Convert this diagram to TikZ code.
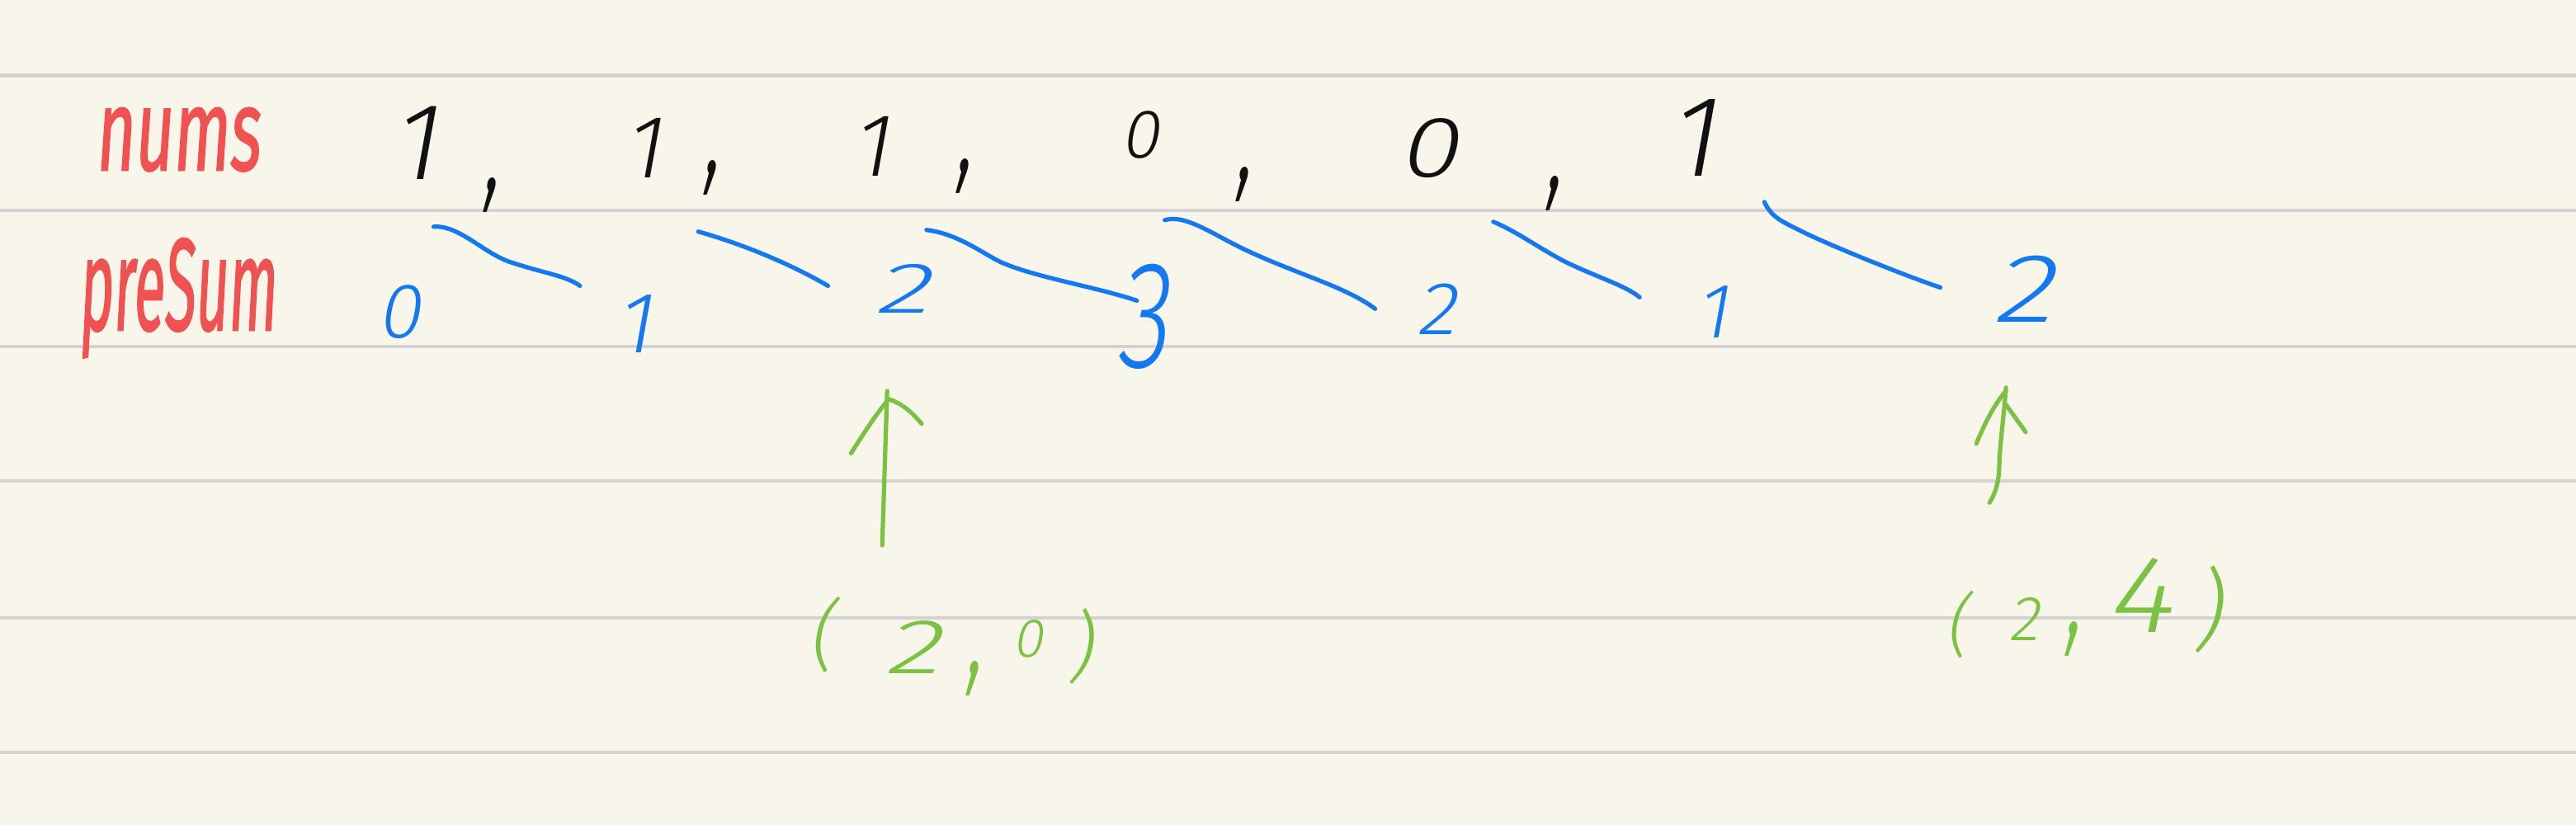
\documentclass[tikz,border=0pt]{standalone}
\usepackage{fontspec}
\usepackage{graphicx}
\setmainfont{Fira Sans Light}[FakeSlant=0.18]
\newfontfamily\labfont{Fira Sans}[FakeSlant=0.12,FakeBold=1.5]
\definecolor{paper}{HTML}{F8F6EA}
\definecolor{rulegray}{HTML}{D3D3D3}
\definecolor{inkred}{HTML}{F05252}
\definecolor{inkblk}{HTML}{111111}
\definecolor{inkblue}{HTML}{1479F0}
\definecolor{inkgreen}{HTML}{7CC242}
\newcommand{\sz}[1]{\fontsize{#1}{#1}\selectfont}
\newcommand{\hwcomma}[1]{{\sz{#1}\scalebox{1}[1.7]{,}}}
\begin{document}
\begin{tikzpicture}[x=0.02cm,y=-0.02cm,
  glyph/.style={inner sep=0pt,outer sep=0pt},
  blk/.style={glyph,text=inkblk},
  blu/.style={glyph,text=inkblue},
  grn/.style={glyph,text=inkgreen},
  lab/.style={glyph,text=inkred},
  pen/.style={line width=1.5pt,line cap=round,line join=round},
  bluepen/.style={pen,draw=inkblue},
  greenpen/.style={pen,draw=inkgreen},
  ruling/.style={draw=rulegray,line width=1.2pt}]
\fill[paper] (0,0) rectangle (1568,502);
\useasboundingbox (0,0) rectangle (1568,502);
\foreach \yy in {46,128,211,293,376,458} \draw[ruling] (0,\yy) -- (1568,\yy);

% labels
\node[lab] (numslab) at (108,85) {\resizebox{2cm}{0.76cm}{\labfont nums}};
\node[lab] (presumlab) at (108,181.5) {\resizebox*{2.4cm}{1.46cm}{\labfont preSum}};

% nums row
\node[blk] (n1) at (252,87) {\sz{38}1};
\node[blk] (k1) at (299,119) {\hwcomma{30}};
\node[blk] (n2) at (391,90) {\sz{31}1};
\node[blk] (k2) at (433,108) {\hwcomma{30}};
\node[blk] (n3) at (530,89) {\sz{31}1};
\node[blk] (k3) at (587,107) {\hwcomma{30}};
\node[blk] (n4) at (694,82) {\sz{24}0};
\node[blk] (k4) at (757,112) {\hwcomma{30}};
\node[blk] (n5) at (869,90) {\scalebox{1.25}[1]{\sz{30}0}};
\node[blk] (k5) at (946,118) {\hwcomma{30}};
\node[blk] (n6) at (1030,84) {\sz{40}1};

% preSum row
\node[blu] (b0) at (243,190) {\sz{27}0};
\node[blu] (b1) at (386,197) {\sz{30}1};
\node[blu] (b2) at (549,176) {\scalebox{1.6}[1]{\sz{25}2}};
\node[blu] (b3) at (695,193) {\scalebox{0.7}[1]{\sz{53}3}};
\node[blu] (b4) at (874,188) {\scalebox{1.1}[1]{\sz{26}2}};
\node[blu] (b5) at (1042,190) {\sz{27}1};
\node[blu] (b6) at (1231,176) {\scalebox{1.3}[1]{\sz{34}2}};

% blue strokes
\draw[bluepen] (264,138) .. controls (280,137) and (295,155) .. (312,160) .. controls (330,166) and (345,168) .. (353,174);
\draw[bluepen] (425,141) .. controls (450,148) and (480,160) .. (504,174);
\draw[bluepen] (564,140) .. controls (580,142) and (592,150) .. (606,158) .. controls (625,168) and (665,174) .. (692,183);
\draw[bluepen] (709,134) .. controls (722,130) and (740,144) .. (760,153) .. controls (790,167) and (820,175) .. (837,188);
\draw[bluepen] (909,135) .. controls (925,142) and (935,150) .. (952,159) .. controls (970,168) and (990,174) .. (998,181);
\draw[bluepen] (1074,123) .. controls (1078,132) and (1085,135) .. (1093,139) .. controls (1110,148) and (1160,168) .. (1181,175);

% green labels
\node[grn,anchor=base west] (g20) at (492,410) {\sz{27}\raisebox{0.14cm}{(}\hspace{0.62cm}\scalebox{1.5}[1]{2}\hspace{0.3cm}\hwcomma{30}\hspace{0.36cm}\raisebox{0.2cm}{\sz{19}0}\hspace{0.3cm})};
\node[grn,anchor=base west] (g24) at (1184,395) {\sz{24}(\hspace{0.5cm}\raisebox{0.1cm}{\sz{22}2}\hspace{0.3cm}\raisebox{0.18cm}{\hwcomma{30}}\hspace{0.3cm}\raisebox{0.2cm}{\sz{38}\scalebox{1.15}[1]{4}}\hspace{0.26cm}\raisebox{0.1cm}{\sz{31})}};

% green arrows
\coordinate (a1tail) at (537,332);
\coordinate (a1tip) at (540,238);
\draw[greenpen] (a1tail) .. controls (538,300) and (539,270) .. (a1tip);
\draw[greenpen] (518,276) .. controls (528,260) and (535,250) .. (541,243) .. controls (550,246) and (556,252) .. (561,258);
\coordinate (a2tail) at (1211,306);
\coordinate (a2tip) at (1221,236);
\draw[greenpen] (a2tail) .. controls (1216,298) and (1217,290) .. (1217,280) .. controls (1218,265) and (1220,250) .. (a2tip);
\draw[greenpen] (1203,270) .. controls (1208,258) and (1214,246) .. (1221,238);
\draw[greenpen] (1220,245) -- (1233,263);
\end{tikzpicture}
\end{document}
